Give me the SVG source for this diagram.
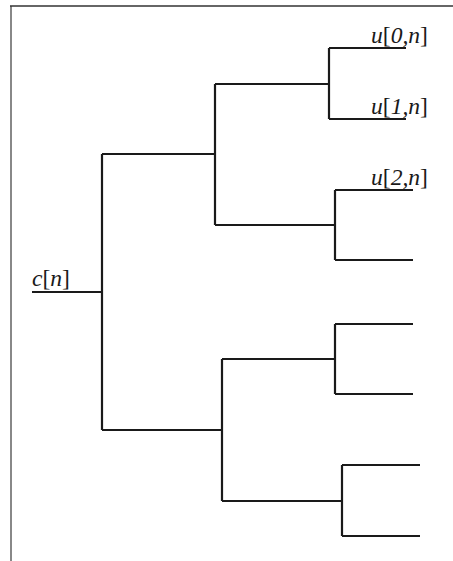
<svg xmlns="http://www.w3.org/2000/svg" width="453" height="561" viewBox="0 0 453 561">
<style>
.e{fill:none;stroke:#1a1a1a;stroke-width:2.2;stroke-linecap:butt;stroke-linejoin:miter}
.f{fill:none;stroke:#888;stroke-width:2}
text{font-family:'Liberation Serif','Times New Roman','DejaVu Serif',serif;font-size:23px;fill:#1a1a1a}
.i{font-style:italic}
</style>
<rect width="453" height="561" fill="#fff"/>
<g id="frame">
<line class="f" x1="11" y1="6" x2="11" y2="561"/>
<line x1="10" y1="6" x2="453" y2="6" stroke="#333" stroke-width="1.5"/>
</g>
<g id="connectors">
<path class="e" d="M32,292 H102 M102,154 V430"/>
<path class="e" d="M102,154 H215 M215,84 V225"/>
<path class="e" d="M215,84 H329 M329,48 V119 M329,48 H406 M329,119 H406"/>
<path class="e" d="M215,225 H335 M335,190 V260 M335,190 H413 M335,260 H413"/>
<path class="e" d="M102,430 H222 M222,359 V501"/>
<path class="e" d="M222,359 H335 M335,324 V394 M335,324 H413 M335,394 H413"/>
<path class="e" d="M222,501 H342 M342,465 V536 M342,465 H420 M342,536 H420"/>
</g>
<g id="label-c">
<text x="32" y="286" textLength="38" lengthAdjust="spacingAndGlyphs"><tspan class="i">c</tspan>[<tspan class="i">n</tspan>]</text>
</g>
<g id="label-u0">
<text x="371" y="43" textLength="57" lengthAdjust="spacingAndGlyphs"><tspan class="i">u</tspan>[<tspan class="i">0,n</tspan>]</text>
</g>
<g id="label-u1">
<text x="371" y="114" textLength="57" lengthAdjust="spacingAndGlyphs"><tspan class="i">u</tspan>[<tspan class="i">1,n</tspan>]</text>
</g>
<g id="label-u2">
<text x="371" y="185" textLength="57" lengthAdjust="spacingAndGlyphs"><tspan class="i">u</tspan>[<tspan class="i">2,n</tspan>]</text>
</g>
</svg>
